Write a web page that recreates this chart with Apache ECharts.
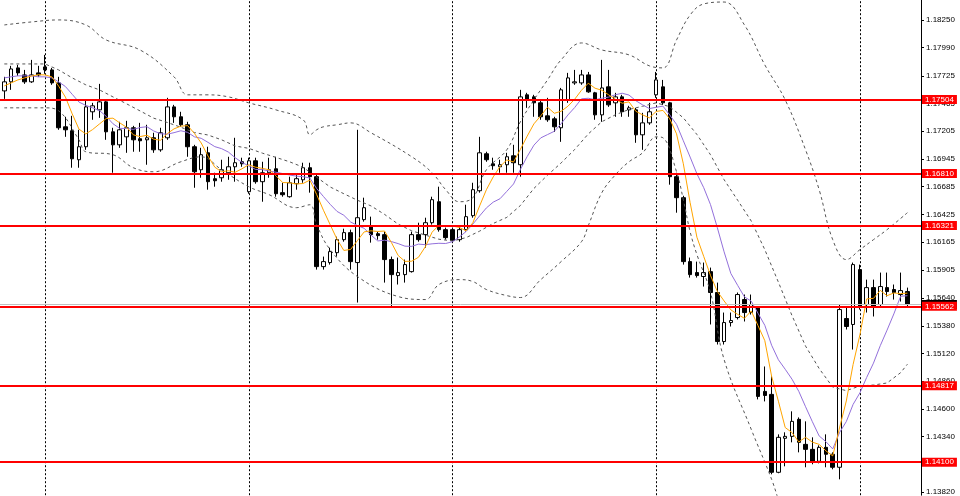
<!DOCTYPE html>
<html><head><meta charset="utf-8">
<script src="https://cdn.jsdelivr.net/npm/echarts@6/dist/echarts.min.js"></script>
<style>html,body{margin:0;padding:0;background:#fff}#c{width:960px;height:496px}</style>
</head><body><div id="c"></div>
<script>
// ---- data (prices) ----
const opens = [1.17584,1.17669,1.17800,1.17734,1.17669,1.17753,1.17809,1.17781,1.17659,1.17247,
1.17210,1.16938,1.17060,1.17388,1.17406,1.17481,1.17200,1.17078,1.17153,1.17238,
1.17135,1.17125,1.17144,1.17031,1.17144,1.17434,1.17341,1.17266,1.17060,1.16844,
1.17003,1.16760,1.16769,1.16816,1.16872,1.16919,1.16638,1.16928,1.16732,1.16816,
1.16853,1.16629,1.16591,1.16713,1.16750,1.16863,1.16779,1.15935,1.15973,1.16066,
1.16188,1.16254,1.15973,1.16376,1.16310,1.16244,1.16235,1.16001,1.15851,1.15860,
1.15888,1.16235,1.16235,1.16347,1.16544,1.16282,1.16282,1.16188,1.16282,1.16413,
1.16647,1.16994,1.16900,1.16872,1.16891,1.16975,1.16891,1.17547,1.17528,1.17472,
1.17350,1.17322,1.17238,1.17500,1.17659,1.17659,1.17734,1.17566,1.17359,1.17622,
1.17472,1.17528,1.17406,1.17406,1.17172,1.17284,1.17547,1.17622,1.17472,1.16779,
1.16582,1.15982,1.15879,1.15842,1.15888,1.15692,1.15232,1.15410,1.15457,1.15626,
1.15504,1.15551,1.14764,1.14736,1.14005,1.14324,1.14342,1.14502,1.14267,1.14220,
1.14108,1.14239,1.14174,1.14052,1.15448,1.15392,1.15907,1.15579,1.15738,1.15579,
1.15738,1.15720,1.15673,1.15701];
const closes = [1.17669,1.17790,1.17753,1.17669,1.17734,1.17734,1.17781,1.17659,1.17238,1.17219,
1.16947,1.17060,1.17434,1.17444,1.17481,1.17200,1.17078,1.17219,1.17238,1.17125,
1.17116,1.17144,1.17031,1.17191,1.17434,1.17341,1.17266,1.17060,1.16825,1.16985,
1.16732,1.16741,1.16844,1.16872,1.16910,1.16900,1.16928,1.16732,1.16816,1.16844,
1.16619,1.16610,1.16722,1.16760,1.16863,1.16779,1.15935,1.15982,1.16076,1.16188,
1.16254,1.15982,1.16394,1.16488,1.16235,1.16226,1.16001,1.15860,1.15879,1.15954,
1.16235,1.16188,1.16347,1.16563,1.16282,1.16207,1.16179,1.16282,1.16404,1.16657,
1.17003,1.16938,1.16882,1.16891,1.16966,1.16910,1.17528,1.17500,1.17472,1.17341,
1.17313,1.17247,1.17594,1.17706,1.17669,1.17734,1.17575,1.17359,1.17612,1.17453,
1.17528,1.17388,1.17425,1.17172,1.17284,1.17388,1.17687,1.17472,1.16779,1.16582,
1.15982,1.15860,1.15851,1.15879,1.15692,1.15232,1.15410,1.15429,1.15673,1.15504,
1.15579,1.14717,1.14726,1.14005,1.14333,1.14342,1.14483,1.14286,1.14220,1.14108,
1.14239,1.14174,1.14052,1.15532,1.15373,1.15954,1.15560,1.15738,1.15560,1.15748,
1.15701,1.15692,1.15710,1.15579];
const highs = [1.17716,1.17819,1.17828,1.17781,1.17875,1.17819,1.17922,1.17800,1.17716,1.17341,
1.17350,1.17219,1.17500,1.17472,1.17650,1.17500,1.17238,1.17294,1.17303,1.17256,
1.17284,1.17266,1.17191,1.17238,1.17519,1.17453,1.17388,1.17294,1.17078,1.17050,
1.17060,1.16816,1.16938,1.16966,1.17144,1.16957,1.16957,1.16957,1.16919,1.16957,
1.16966,1.16722,1.16779,1.16797,1.16910,1.16910,1.16797,1.16029,1.16113,1.16216,
1.16291,1.16282,1.17219,1.16582,1.16404,1.16263,1.16263,1.16029,1.16020,1.16001,
1.16263,1.16347,1.16394,1.16591,1.16685,1.16301,1.16301,1.16310,1.16516,1.16722,
1.17153,1.17013,1.16957,1.16938,1.17003,1.17078,1.17594,1.17566,1.17547,1.17500,
1.17519,1.17341,1.17612,1.17753,1.17781,1.17781,1.17762,1.17575,1.17875,1.17781,
1.17566,1.17547,1.17444,1.17425,1.17378,1.17472,1.17762,1.17687,1.17481,1.16816,
1.16600,1.16020,1.15982,1.15973,1.15926,1.15785,1.15504,1.15504,1.15692,1.15673,
1.15673,1.15560,1.14998,1.14905,1.14361,1.14380,1.14577,1.14520,1.14483,1.14333,
1.14258,1.14361,1.14192,1.15579,1.15560,1.15973,1.15954,1.15813,1.15813,1.15879,
1.15879,1.15767,1.15879,1.15738];
const lows = [1.17509,1.17594,1.17725,1.17650,1.17659,1.17716,1.17744,1.17641,1.17219,1.17153,
1.16863,1.16863,1.17031,1.17313,1.17331,1.17125,1.16816,1.17050,1.17003,1.17013,
1.17013,1.16891,1.17003,1.17013,1.17125,1.17284,1.17247,1.16966,1.16675,1.16769,
1.16657,1.16685,1.16732,1.16750,1.16732,1.16872,1.16619,1.16713,1.16544,1.16769,
1.16591,1.16591,1.16582,1.16657,1.16722,1.16629,1.15907,1.15907,1.15954,1.16029,
1.16169,1.15907,1.15598,1.16357,1.16160,1.16188,1.15785,1.15560,1.15767,1.15785,
1.15879,1.16169,1.16113,1.16329,1.16263,1.16188,1.16160,1.16169,1.16263,1.16394,
1.16629,1.16919,1.16844,1.16816,1.16816,1.16816,1.16779,1.17425,1.17341,1.17313,
1.17294,1.17200,1.17106,1.17472,1.17641,1.17641,1.17566,1.17313,1.17294,1.17434,
1.17341,1.17341,1.17341,1.17097,1.17031,1.17266,1.17519,1.17453,1.16704,1.16441,
1.15954,1.15832,1.15832,1.15748,1.15392,1.15204,1.15204,1.15373,1.15439,1.15420,
1.15485,1.14689,1.14670,1.13986,1.13996,1.14061,1.14286,1.14192,1.14052,1.14080,
1.14089,1.14052,1.14033,1.13939,1.15345,1.15157,1.15532,1.15504,1.15467,1.15560,
1.15654,1.15626,1.15607,1.15560];
const maFast = [1.17631,1.17659,1.17687,1.17706,1.17723,1.17736,1.17734,1.17716,1.17629,1.17526,
1.17369,1.17225,1.17180,1.17221,1.17273,1.17324,1.17328,1.17284,1.17243,1.17172,
1.17155,1.17168,1.17131,1.17121,1.17183,1.17228,1.17253,1.17258,1.17185,1.17095,
1.16973,1.16868,1.16825,1.16835,1.16820,1.16853,1.16891,1.16868,1.16857,1.16844,
1.16788,1.16724,1.16722,1.16711,1.16715,1.16747,1.16612,1.16464,1.16327,1.16192,
1.16087,1.16096,1.16179,1.16261,1.16271,1.16265,1.16269,1.16162,1.16040,1.15984,
1.15986,1.16023,1.16121,1.16258,1.16323,1.16318,1.16316,1.16303,1.16271,1.16346,
1.16505,1.16657,1.16777,1.16874,1.16936,1.16917,1.17035,1.17159,1.17275,1.17350,
1.17431,1.17374,1.17393,1.17440,1.17506,1.17590,1.17656,1.17609,1.17590,1.17547,
1.17506,1.17468,1.17481,1.17393,1.17359,1.17331,1.17391,1.17401,1.17322,1.17181,
1.16900,1.16535,1.16211,1.16031,1.15853,1.15703,1.15613,1.15529,1.15487,1.15450,
1.15519,1.15381,1.15240,1.14906,1.14672,1.14425,1.14378,1.14290,1.14333,1.14288,
1.14267,1.14206,1.14159,1.14421,1.14674,1.15017,1.15294,1.15632,1.15637,1.15712,
1.15662,1.15688,1.15682,1.15686];
const maSlow = [1.17706,1.17716,1.17725,1.17725,1.17725,1.17716,1.17716,1.17706,1.17669,1.17625,
1.17552,1.17479,1.17448,1.17425,1.17400,1.17346,1.17276,1.17232,1.17232,1.17223,
1.17240,1.17248,1.17208,1.17182,1.17178,1.17192,1.17210,1.17195,1.17153,1.17139,
1.17101,1.17061,1.17042,1.17010,1.16957,1.16913,1.16880,1.16847,1.16846,1.16832,
1.16821,1.16808,1.16795,1.16784,1.16779,1.16767,1.16668,1.16593,1.16519,1.16453,
1.16417,1.16354,1.16321,1.16294,1.16231,1.16176,1.16183,1.16170,1.16151,1.16127,
1.16125,1.16146,1.16141,1.16149,1.16154,1.16152,1.16169,1.16212,1.16264,1.16334,
1.16411,1.16486,1.16540,1.16572,1.16641,1.16711,1.16846,1.16968,1.17075,1.17143,
1.17174,1.17205,1.17276,1.17358,1.17428,1.17510,1.17515,1.17501,1.17515,1.17526,
1.17548,1.17562,1.17545,1.17492,1.17453,1.17418,1.17430,1.17441,1.17358,1.17270,
1.17116,1.16963,1.16806,1.16676,1.16517,1.16302,1.16074,1.15870,1.15759,1.15651,
1.15611,1.15497,1.15384,1.15197,1.15061,1.14972,1.14879,1.14765,1.14620,1.14480,
1.14346,1.14292,1.14224,1.14377,1.14481,1.14642,1.14750,1.14895,1.15029,1.15193,
1.15339,1.15491,1.15657,1.15662];
const bandMid = [[0,1.17837],[2,1.17837],[4,1.17837],[6,1.17837],[8,1.17781],[10,1.17706],[12,1.17641],[14,1.17594],[16,1.17528],[18,1.17463],
[20,1.17396],[22,1.17328],[24,1.17288],[26,1.17243],[28,1.17193],[30,1.17170],[32,1.17125],[34,1.17067],[36,1.17045],[38,1.17000],
[40,1.16960],[42,1.16919],[44,1.16868],[46,1.16774],[48,1.16682],[50,1.16619],[52,1.16558],[54,1.16505],[56,1.16425],[58,1.16334],
[60,1.16271],[62,1.16231],[64,1.16192],[66,1.16176],[68,1.16207],[70,1.16268],[72,1.16340],[74,1.16397],[76,1.16508],[78,1.16669],
[80,1.16793],[82,1.16908],[84,1.17034],[86,1.17180],[88,1.17295],[90,1.17360],[92,1.17410],[94,1.17440],[96,1.17472],[98,1.17436],
[100,1.17331],[102,1.17175],[104,1.16985],[106,1.16751],[108,1.16558],[110,1.16363],[112,1.16094],[114,1.15789],[116,1.15476],[118,1.15189],
[120,1.14979],[122,1.14804],[124,1.14771],[126,1.14815],[128,1.14824],[130,1.14843],[132,1.14940],[133,1.15019]];
const bandUpper = [[0,1.18203],[4,1.18231],[8,1.18250],[12,1.18203],[15,1.18062],[20,1.17968],[25,1.17716],[27,1.17547],[30,1.17547],[33,1.17528],
[36,1.17472],[40,1.17406],[44,1.17313],[45,1.17172],[46,1.17219],[47,1.17247],[49,1.17266],[51,1.17284],[54,1.17191],[60,1.16966],
[63,1.16816],[65,1.16657],[67,1.16544],[69,1.16582],[71,1.16844],[74,1.17031],[76,1.17294],[78,1.17500],[80,1.17687],[82,1.17875],
[85,1.18034],[88,1.17968],[92,1.17922],[95,1.17819],[97,1.17800],[99,1.18062],[101,1.18296],[103,1.18400],[106,1.18418],[109,1.18203],
[112,1.17828],[115,1.17500],[118,1.17031],[120,1.16657],[122,1.16188],[124,1.16001],[126,1.16094],[128,1.16188],[130,1.16282],[133,1.16441]];
const bandLower = [[0,1.17425],[6,1.17425],[8,1.17397],[11,1.17125],[12,1.17013],[16,1.16985],[19,1.16863],[22,1.16825],[26,1.16919],[29,1.16966],
[32,1.16844],[36,1.16685],[39,1.16610],[43,1.16488],[45,1.16516],[46,1.16329],[48,1.16094],[52,1.15842],[58,1.15654],[62,1.15626],
[64,1.15767],[67,1.15813],[69,1.15795],[71,1.15720],[74,1.15663],[76,1.15645],[79,1.15813],[82,1.15982],[85,1.16169],[86,1.16319],
[88,1.16629],[90,1.16797],[92,1.16919],[94,1.17003],[96,1.17153],[97,1.17144],[99,1.16825],[100,1.16563],[101,1.16263],[102,1.16048],
[104,1.15692],[106,1.15064],[110,1.14408],[113,1.13939],[115,1.13565],[118,1.13190],[122,1.13002],[126,1.12909],[133,1.13049]];
const levels = [1.17504, 1.16810, 1.16321, 1.15562, 1.14817, 1.14100];
const bidPrice = 1.15579;
const priceTicks = [1.18250,1.17990,1.17725,1.17465,1.17205,1.16945,1.16685,1.16425,1.16165,1.15905,1.15640,1.15380,1.15120,1.14860,1.14600,1.14340,1.14080,1.13820];
const periodSeparators = [6, 36, 66, 96, 126];

// ---- chart ----
const chart = echarts.init(document.getElementById('c'), null, {renderer: 'canvas'});
const FONT = "'Liberation Sans', Arial, sans-serif";
const candles = opens.map((o, i) => [i, o, closes[i], lows[i], highs[i]]);
const idx = arr => arr.map((v, i) => [i, v]);
const fmt = v => Number(v).toFixed(5);
const labelStyle = bg => ({show: true, position: 'end', distance: 1, formatter: p => fmt(p.value), color: '#fff',
  backgroundColor: bg, fontSize: 8, fontFamily: FONT, padding: [1, 3, 0, 3], lineHeight: 8});
const bandStyle = {color: '#555', width: 1, type: [3, 3]};

chart.setOption({
  animation: false,
  backgroundColor: '#ffffff',
  grid: {left: 0, right: 39, top: 0, bottom: 0},
  xAxis: {type: 'value', min: -0.633, max: 135.0, show: false,
    axisLine: {show: false, onZero: false}, axisTick: {show: false}, axisLabel: {show: false}, splitLine: {show: false}},
  yAxis: {
    type: 'value', position: 'right', min: 1.13790, max: 1.18437,
    axisLine: {show: true, onZero: false, lineStyle: {color: '#000', width: 1}},
    axisTick: {show: true, inside: false, length: 3, customValues: priceTicks, lineStyle: {color: '#000'}},
    axisLabel: {show: true, customValues: priceTicks, formatter: fmt, color: '#000', fontSize: 8, fontFamily: FONT, margin: 5},
    splitLine: {show: false}, minorTick: {show: false}, splitArea: {show: false}
  },
  series: [
    {
      type: 'line', data: [], z: 1, silent: true,
      markLine: {
        silent: true, symbol: 'none', z: 1, animation: false, precision: 5,
        lineStyle: {color: '#000', type: [2, 2], width: 1},
        label: {show: false},
        data: periodSeparators.map(x => ({xAxis: x}))
      }
    },
    {
      type: 'candlestick', data: candles, z: 2, barWidth: 4, silent: true,
      itemStyle: {color: '#ffffff', color0: '#000000', borderColor: '#000000', borderColor0: '#000000', borderWidth: 1}
    },
    {type: 'line', data: bandMid, z: 3, showSymbol: false, silent: true, lineStyle: bandStyle},
    {type: 'line', data: bandUpper, z: 3, smooth: 0.4, showSymbol: false, silent: true, lineStyle: bandStyle},
    {type: 'line', data: bandLower, z: 3, smooth: 0.4, showSymbol: false, silent: true, lineStyle: bandStyle},
    {type: 'line', data: idx(maSlow), z: 4, showSymbol: false, silent: true, lineStyle: {color: '#9370DB', width: 1}},
    {type: 'line', data: idx(maFast), z: 4, showSymbol: false, silent: true, lineStyle: {color: '#FFA500', width: 1}},
    {
      type: 'line', data: [], z: 5, silent: true,
      markLine: {
        silent: true, symbol: 'none', z: 5, animation: false, precision: 5,
        data: [
          {yAxis: bidPrice, lineStyle: {color: '#c0c0c0', width: 1, type: 'solid'}, label: labelStyle('#000000')}
        ].concat(levels.map(v => ({
          yAxis: v, lineStyle: {color: '#ff0000', width: 2, type: 'solid'}, label: labelStyle('#ff0000')
        })))
      }
    }
  ]
});
</script>
</body></html>
